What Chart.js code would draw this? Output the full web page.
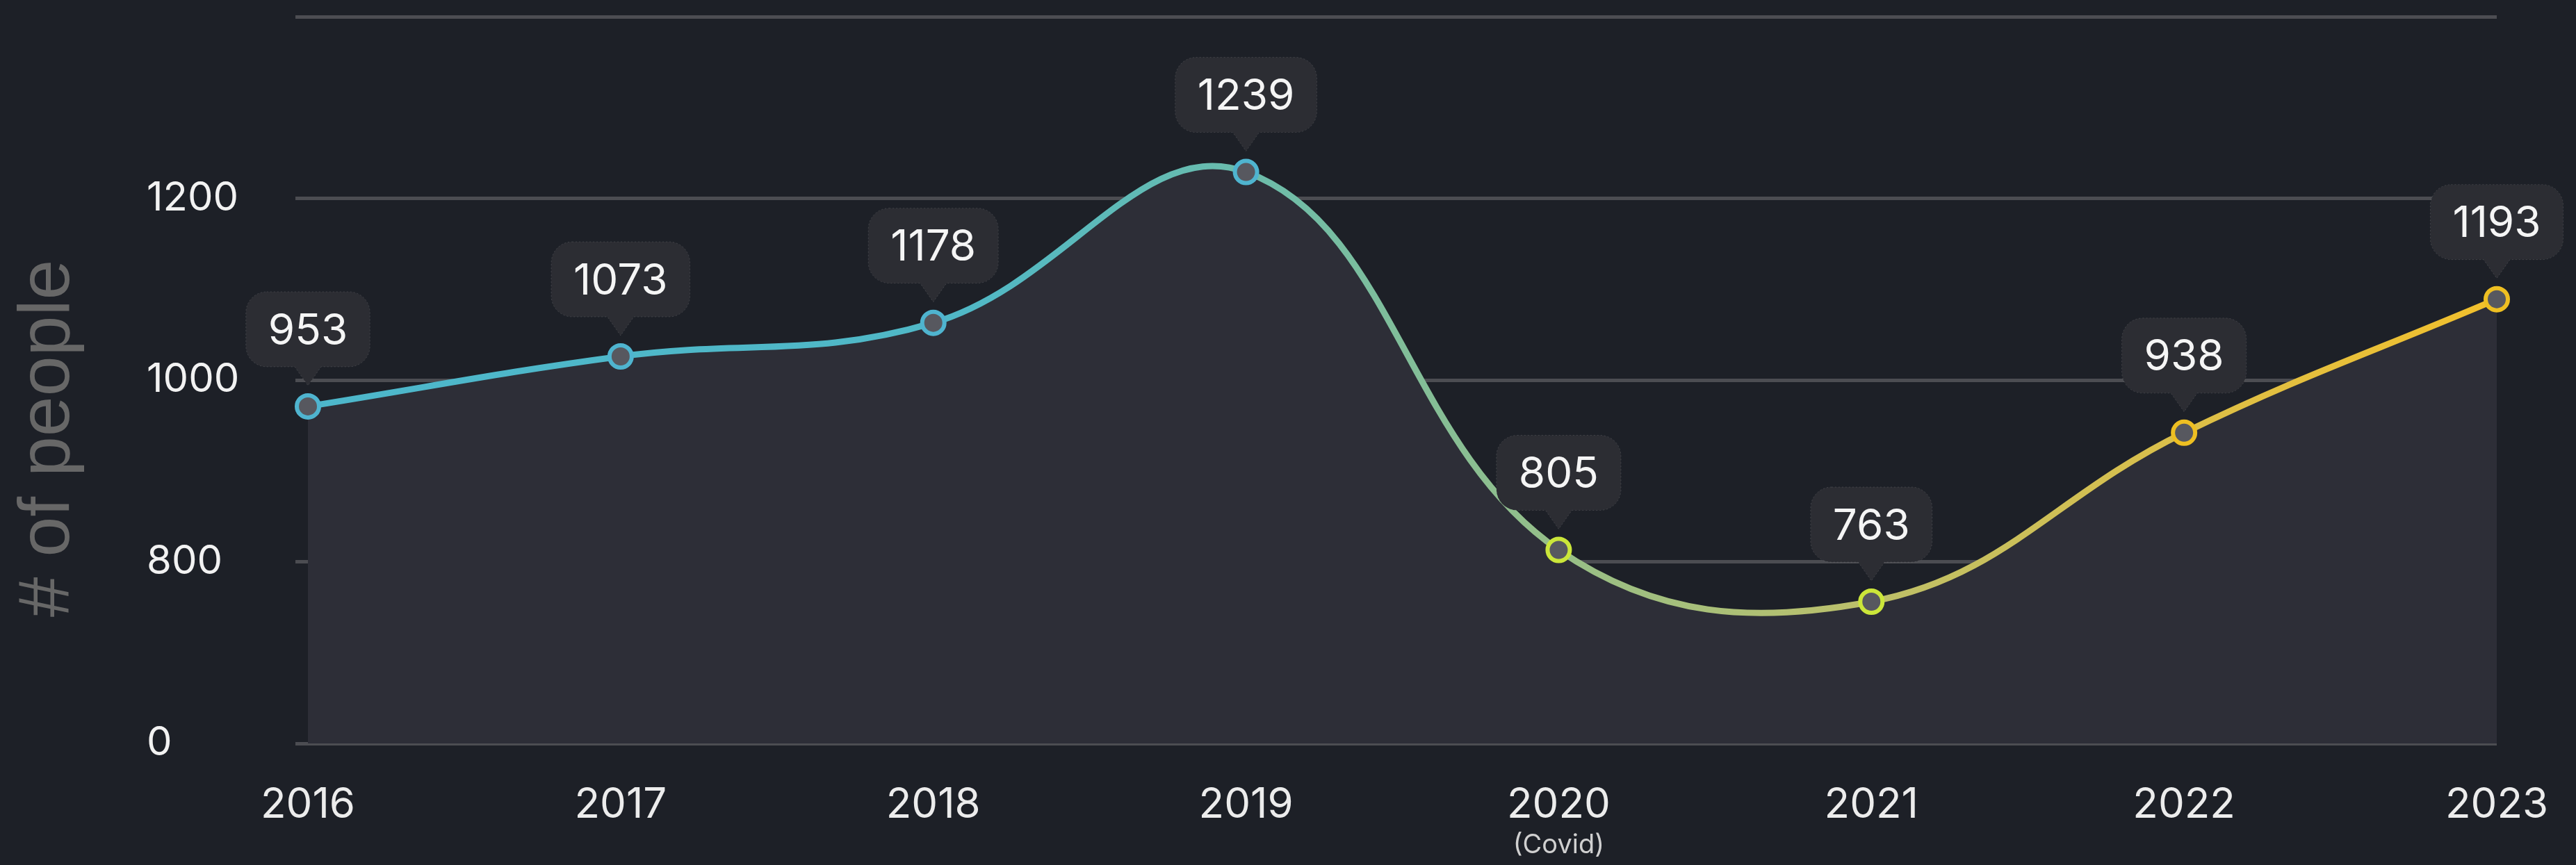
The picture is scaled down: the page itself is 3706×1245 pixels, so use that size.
<!DOCTYPE html>
<html>
<head>
<meta charset="utf-8">
<script src="https://cdn.jsdelivr.net/npm/chart.js@4"></script>
<style>
  html, body { margin: 0; padding: 0; background: #1d2027; overflow: hidden; }
  #wrap { width: 3706px; height: 1245px; position: relative; }
  #c { display: block; }
</style>
</head>
<body>
<div id="wrap"><canvas id="c"></canvas></div>
<script>
// ---- data ----
const years = ['2016', '2017', '2018', '2019', '2020', '2021', '2022', '2023'];
const yearNotes = ['', '', '', '', '(Covid)', '', '', ''];
// values shown in the callouts
const valueLabels = ['953', '1073', '1178', '1239', '805', '763', '938', '1193'];
// where each point sits on the drawn (broken) y axis
const plottedValues = [971, 1026, 1063, 1229, 813, 756, 942, 1089];
// y axis ticks (the bottom line is labelled 0)
const yTickValues = [600, 800, 1000, 1200, 1400];
const yTickLabels = ['0', '800', '1000', '1200', ''];
const yTitle = '# of people';

// ---- styles ----
const pointBorders = ['#4fb4cf', '#4fb4cf', '#4fb4cf', '#4fb4cf', '#cbe63a', '#cbe63a', '#eebf22', '#eebf22'];
const lineStops = [
  [0.00, '#4db7cb'],
  [0.30, '#50b8c6'],
  [0.43, '#6bbcab'],
  [0.57, '#96bf88'],
  [0.71, '#bcc06a'],
  [0.86, '#dcbf48'],
  [1.00, '#f2c02c']
];

const bubblePlugin = {
  id: 'bubbles',
  afterDatasetsDraw(chart) {
    const meta = chart.getDatasetMeta(0);
    const ctx = chart.ctx;
    ctx.save();
    ctx.font = '400 62px Inter';
    meta.data.forEach((pt, i) => {
      const text = valueLabels[i];
      const x = pt.x;
      const w = ctx.measureText(text).width + 64;
      const h = 108;
      const tipY = pt.y - 30;
      const bottom = tipY - 27;
      const top = bottom - h;
      const left = x - w / 2;
      const r = 30;
      ctx.beginPath();
      ctx.moveTo(left + r, top);
      ctx.lineTo(left + w - r, top);
      ctx.arcTo(left + w, top, left + w, top + r, r);
      ctx.lineTo(left + w, bottom - r);
      ctx.arcTo(left + w, bottom, left + w - r, bottom, r);
      ctx.lineTo(x + 19, bottom);
      ctx.lineTo(x, tipY);
      ctx.lineTo(x - 19, bottom);
      ctx.lineTo(left + r, bottom);
      ctx.arcTo(left, bottom, left, bottom - r, r);
      ctx.lineTo(left, top + r);
      ctx.arcTo(left, top, left + r, top, r);
      ctx.closePath();
      ctx.fillStyle = '#2c2d33';
      ctx.fill();
      ctx.setLineDash([2, 3]);
      ctx.lineWidth = 1;
      ctx.strokeStyle = 'rgba(255,255,255,0.13)';
      ctx.stroke();
      ctx.setLineDash([]);
      ctx.fillStyle = '#f5f5f5';
      ctx.textAlign = 'center';
      ctx.textBaseline = 'middle';
      ctx.fillText(text, x, (top + bottom) / 2 + 3);
    });
    ctx.restore();
  },
  afterDraw(chart) {
    const ctx = chart.ctx;
    ctx.save();
    // y axis title
    ctx.translate(99, 631);
    ctx.rotate(-Math.PI / 2);
    ctx.font = '400 104px "Liberation Sans"';
    ctx.fillStyle = '#676767';
    ctx.textAlign = 'center';
    ctx.textBaseline = 'alphabetic';
    ctx.fillText(yTitle, 0, 0);
    ctx.restore();
    // secondary notes under x labels
    const xs = chart.scales.x;
    ctx.save();
    ctx.font = '400 38px Inter';
    ctx.fillStyle = '#d0d0d0';
    ctx.textAlign = 'center';
    ctx.textBaseline = 'middle';
    yearNotes.forEach((n, i) => {
      if (n) ctx.fillText(n, xs.getPixelForValue(i), 1217);
    });
    ctx.restore();
  }
};

new Chart(document.getElementById('c'), {
  type: 'line',
  data: {
    labels: years,
    datasets: [{
      data: plottedValues,
      borderWidth: 9,
      tension: 0.4,
      fill: 'origin',
      backgroundColor: '#2d2e37',
      borderColor: (c) => {
        const { ctx, chartArea } = c.chart;
        if (!chartArea) return lineStops[0][1];
        const g = ctx.createLinearGradient(chartArea.left, 0, chartArea.right, 0);
        lineStops.forEach(s => g.addColorStop(s[0], s[1]));
        return g;
      },
      pointRadius: 16,
      pointBorderWidth: 6,
      pointBackgroundColor: '#57585f',
      pointBorderColor: pointBorders,
      pointHoverRadius: 16
    }]
  },
  options: {
    responsive: true,
    maintainAspectRatio: false,
    animation: false,
    events: [],
    layout: { padding: { left: 211, right: 114, top: 24, bottom: 0 } },
    plugins: { legend: { display: false }, tooltip: { enabled: false } },
    scales: {
      x: {
        type: 'category',
        offset: false,
        grid: { display: false, drawTicks: false },
        border: { display: false },
        ticks: {
          color: '#ececec',
          font: { family: 'Inter', size: 60 },
          padding: 53,
          maxRotation: 0,
          autoSkip: false
        },
        afterFit(scale) { scale.height = 175; scale.paddingLeft = 0; scale.paddingRight = 0; }
      },
      y: {
        type: 'linear',
        min: yTickValues[0],
        max: yTickValues[yTickValues.length - 1],
        afterBuildTicks(scale) { scale.ticks = yTickValues.map(v => ({ value: v })); },
        grid: { color: '#4c4d52', lineWidth: 5, drawTicks: true, tickLength: 18, tickColor: '#4c4d52' },
        border: { display: false },
        ticks: {
          color: '#f2f2f2',
          font: { family: 'Inter', size: 58 },
          crossAlign: 'far',
          callback: (v) => {
            const i = yTickValues.indexOf(v);
            return i >= 0 ? yTickLabels[i] : '';
          }
        },
        afterFit(scale) { scale.width = 443 - 211; scale.paddingTop = 0; scale.paddingBottom = 0; }
      }
    }
  },
  plugins: [bubblePlugin]
});
</script>
</body>
</html>
